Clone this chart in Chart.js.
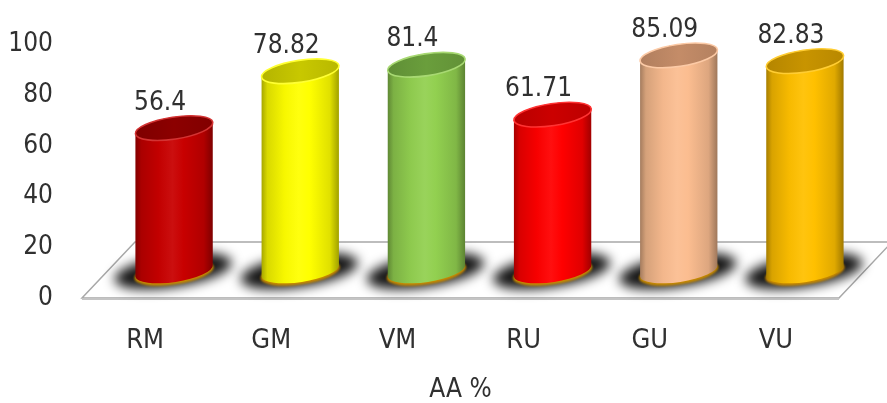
<!DOCTYPE html>
<html>
<head>
<meta charset="utf-8">
<script src="https://cdn.jsdelivr.net/npm/chart.js@4"></script>
<style>
  html, body { margin: 0; padding: 0; background: #fff; }
</style>
</head>
<body>
<canvas id="aaChart" width="887" height="403"></canvas>
<script>
const categories = ['RM', 'GM', 'VM', 'RU', 'GU', 'VU'];
const aaValues = [56.4, 78.82, 81.4, 61.71, 85.09, 82.83];
const yTickValues = [0, 20, 40, 60, 80, 100];
const axisTitle = 'AA %';

// body colour and top-cap colour of each cylinder
const bodyColors = ['#c80000', '#ffff00', '#92d050', '#ff0000', '#fbbd90', '#ffc000'];
const capColors  = ['#8c0000', '#c8c800', '#6a9e3c', '#cc0000', '#c48c68', '#c89400'];

// floor depth and where the cylinders sit inside it
const FLOOR_DX = 53, FLOOR_DY = -56;
const BAR_DX = 29, BAR_DY = -27;
const ELL_RY = 11, ELL_ROT = -0.15;

const textColor = '#303030';
Chart.defaults.font.family = "'Liberation Sans Narrow', 'Arial Narrow', 'DejaVu Sans Condensed', sans-serif";

function hexToRgb(h){
  const n = parseInt(h.slice(1), 16);
  return [(n >> 16) & 255, (n >> 8) & 255, n & 255];
}
function shade(hex, f){
  // f < 0 darkens, f > 0 lightens
  const c = hexToRgb(hex).map(v => f < 0 ? v * (1 + f) : v + (255 - v) * f);
  return `rgb(${c.map(Math.round).join(',')})`;
}

function drawFloor(chart){
  const {ctx, scales:{x, y}} = chart;
  const y0 = y.getPixelForValue(0);
  const l = x.left, r = x.right;
  ctx.save();
  ctx.beginPath();
  ctx.moveTo(l, y0);
  ctx.lineTo(r, y0);
  ctx.lineTo(r + FLOOR_DX, y0 + FLOOR_DY);
  ctx.lineTo(l + FLOOR_DX, y0 + FLOOR_DY);
  ctx.closePath();
  ctx.fillStyle = '#fff';
  ctx.fill();
  ctx.strokeStyle = '#a8a8a8';
  ctx.lineWidth = 1.5;
  ctx.stroke();
  // front edge a bit heavier
  ctx.beginPath();
  ctx.moveTo(l, y0 + 1);
  ctx.lineTo(r, y0 + 1);
  ctx.strokeStyle = '#c4c4c4';
  ctx.lineWidth = 2;
  ctx.stroke();
  ctx.restore();
}

function drawCylinder(ctx, cx, topY, baseY, rx, col, cap){
  const ry = ELL_RY, rot = ELL_ROT;
  const cosR = Math.cos(rot), sinR = Math.sin(rot);
  const lx = cx - rx * cosR, rX = cx + rx * cosR;
  const ly = -rx * sinR, rY = rx * sinR;

  // soft black shadow on the floor
  ctx.save();
  ctx.filter = 'blur(6px)';
  ctx.fillStyle = 'rgba(0,0,0,0.92)';
  ctx.beginPath();
  ctx.ellipse(cx - 1, baseY, rx + 20, ry + 5, rot, 0, Math.PI * 2);
  ctx.fill();
  ctx.restore();

  // warm rim where the cylinder touches the floor
  ctx.save();
  ctx.filter = 'blur(1px)';
  ctx.fillStyle = '#c88a00';
  ctx.beginPath();
  ctx.ellipse(cx, baseY + 1.5, rx + 1, ry + 1, rot, 0, Math.PI * 2);
  ctx.fill();
  ctx.restore();

  // body
  const g = ctx.createLinearGradient(cx - rx, 0, cx + rx, 0);
  g.addColorStop(0, shade(col, -0.36));
  g.addColorStop(0.08, shade(col, -0.15));
  g.addColorStop(0.3, shade(col, -0.03));
  g.addColorStop(0.48, shade(col, 0.06));
  g.addColorStop(0.62, col);
  g.addColorStop(0.88, shade(col, -0.12));
  g.addColorStop(1, shade(col, -0.38));
  ctx.save();
  ctx.fillStyle = g;
  ctx.beginPath();
  ctx.moveTo(lx, topY + ly);
  ctx.lineTo(lx, baseY + ly);
  ctx.ellipse(cx, baseY, rx, ry, rot, Math.PI, 0, true);
  ctx.lineTo(rX, topY + rY);
  ctx.ellipse(cx, topY, rx, ry, rot, 0, Math.PI, true);
  ctx.closePath();
  ctx.fill();

  // top cap
  const tg = ctx.createLinearGradient(cx - rx, 0, cx + rx, 0);
  tg.addColorStop(0, shade(cap, -0.1));
  tg.addColorStop(0.5, cap);
  tg.addColorStop(1, shade(cap, -0.08));
  ctx.fillStyle = tg;
  ctx.beginPath();
  ctx.ellipse(cx, topY, rx, ry, rot, 0, Math.PI * 2);
  ctx.fill();
  ctx.strokeStyle = shade(col, 0.2);
  ctx.lineWidth = 1.6;
  ctx.stroke();
  ctx.restore();
}

const cylinderPlugin = {
  id: 'cylinders',
  beforeDatasetsDraw(chart){
    drawFloor(chart);
  },
  afterDatasetsDraw(chart){
    const {ctx} = chart;
    const meta = chart.getDatasetMeta(0);
    const ds = chart.data.datasets[0];
    meta.data.forEach((bar, i) => {
      const cx = bar.x + BAR_DX;
      const topY = bar.y + BAR_DY;
      const baseY = bar.base + BAR_DY;
      drawCylinder(ctx, cx, topY, baseY, bar.width / 2, bodyColors[i], capColors[i]);
      ctx.save();
      ctx.fillStyle = textColor;
      ctx.font = "26px " + Chart.defaults.font.family;
      ctx.textAlign = 'center';
      ctx.textBaseline = 'middle';
      ctx.fillText(String(ds.data[i]), cx - 14, topY - 25);
      ctx.restore();
    });
  }
};

new Chart(document.getElementById('aaChart'), {
  type: 'bar',
  data: {
    labels: categories,
    datasets: [{
      data: aaValues,
      backgroundColor: 'rgba(0,0,0,0)',
      borderWidth: 0,
      categoryPercentage: 1,
      barPercentage: 0.62
    }]
  },
  options: {
    responsive: false,
    animation: false,
    layout: { padding: { top: 41, right: 48, left: 0, bottom: 0 } },
    plugins: { legend: { display: false }, tooltip: { enabled: false } },
    scales: {
      x: {
        grid: { display: false, drawTicks: false },
        border: { display: false },
        ticks: { color: textColor, font: { size: 27, lineHeight: 1 }, padding: 29 },
        title: {
          display: true, text: axisTitle, color: textColor,
          font: { size: 26, lineHeight: 1 }, padding: { top: 0, bottom: 0 }
        },
        afterFit(s){ s.height = 105; }
      },
      y: {
        min: 0, max: 100,
        grid: { display: false, drawTicks: false },
        border: { display: false },
        ticks: { color: textColor, font: { size: 26 }, padding: 29 },
        afterBuildTicks(s){ s.ticks = yTickValues.map(v => ({ value: v })); },
        afterFit(s){ s.width = 82; }
      }
    }
  },
  plugins: [cylinderPlugin]
});
</script>
</body>
</html>
